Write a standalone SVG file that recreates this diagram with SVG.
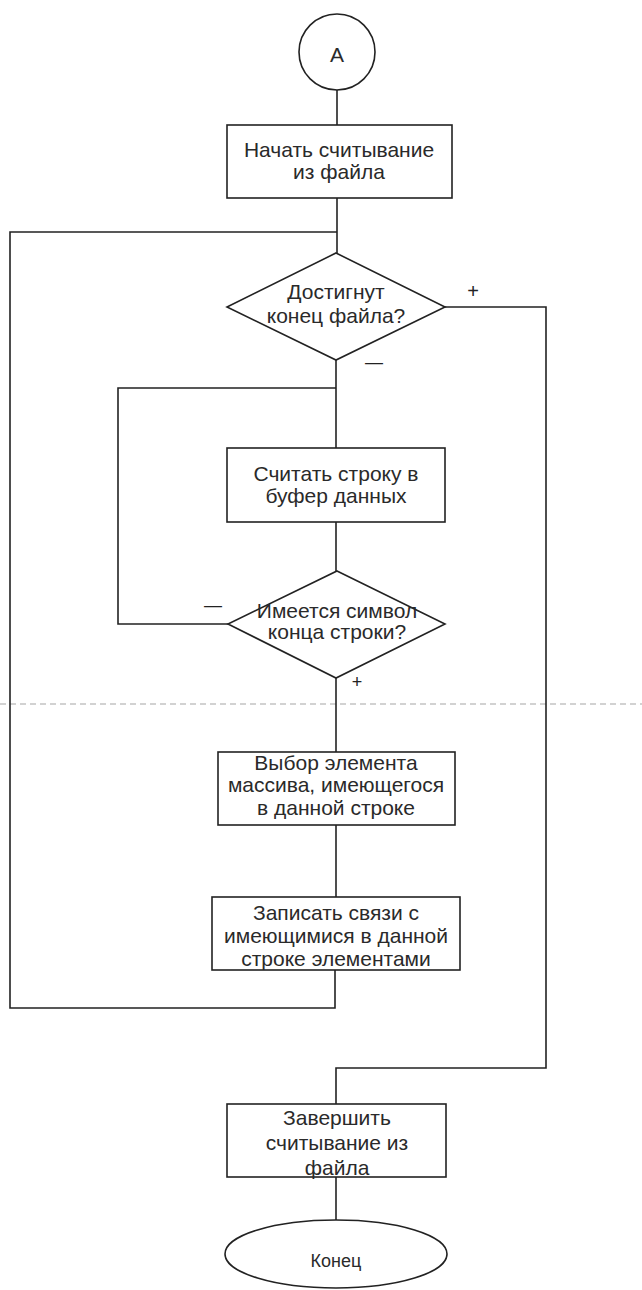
<svg xmlns="http://www.w3.org/2000/svg" width="642" height="1290" viewBox="0 0 642 1290">
<style>
.s{fill:#fff;stroke:#222;stroke-width:1.6}
.c{fill:none;stroke:#222;stroke-width:1.6}
.t{font-family:"Liberation Sans",Arial,sans-serif;font-size:21px;fill:#2a2a2a;text-anchor:middle}
.l{font-family:"Liberation Sans",Arial,sans-serif;fill:#222;text-anchor:middle}
</style>
<rect x="0" y="0" width="642" height="1290" fill="#fff"/>
<line x1="0" y1="704" x2="642" y2="704" stroke="#c4c4c4" stroke-width="1.3" stroke-dasharray="6 4"/>
<g id="connectors">
<path class="c" d="M337 90V125"/>
<path class="c" d="M337 198V253"/>
<path class="c" d="M335 970V1008H10V232H337"/>
<path class="c" d="M445 307H546V1068H336V1104"/>
<path class="c" d="M336 360V448"/>
<path class="c" d="M228 624H118V388H336"/>
<path class="c" d="M336 522V571"/>
<path class="c" d="M336 678V752"/>
<path class="c" d="M336 825V897"/>
<path class="c" d="M336 1177V1220"/>
<text class="l" x="473" y="298" font-size="20">+</text>
<text class="l" x="374" y="368" font-size="18">—</text>
<text class="l" x="213" y="611" font-size="18">—</text>
<text class="l" x="357" y="688" font-size="18">+</text>
</g>
<g id="start">
<circle class="s" cx="337" cy="52" r="38"/>
<text class="t" x="337" y="62">А</text>
</g>
<g id="begin-read">
<rect class="s" x="227" y="125" width="225" height="73"/>
<text class="t" x="339" y="157">Начать считывание</text>
<text class="t" x="339" y="179">из файла</text>
</g>
<g id="eof-check">
<polygon class="s" points="336,253 445,307 336,360 227,307"/>
<text class="t" x="336" y="299">Достигнут</text>
<text class="t" x="336" y="323">конец файла?</text>
</g>
<g id="read-line">
<rect class="s" x="227" y="448" width="218" height="74"/>
<text class="t" x="336" y="481">Считать строку в</text>
<text class="t" x="336" y="503">буфер данных</text>
</g>
<g id="eol-check">
<polygon class="s" points="337,571 445,624 336,678 228,624"/>
<text class="t" x="337" y="618">Имеется символ</text>
<text class="t" x="337" y="639">конца строки?</text>
</g>
<g id="select-element">
<rect class="s" x="218" y="752" width="237" height="73"/>
<text class="t" x="336" y="770">Выбор элемента</text>
<text class="t" x="336" y="792">массива, имеющегося</text>
<text class="t" x="336" y="815">в данной строке</text>
</g>
<g id="write-links">
<rect class="s" x="212" y="897" width="248" height="73"/>
<text class="t" x="336" y="920">Записать связи с</text>
<text class="t" x="336" y="943">имеющимися в данной</text>
<text class="t" x="336" y="966">строке элементами</text>
</g>
<g id="finish-read">
<rect class="s" x="227" y="1104" width="219" height="73"/>
<text class="t" x="337" y="1125">Завершить</text>
<text class="t" x="337" y="1150">считывание из</text>
<text class="t" x="337" y="1175">файла</text>
</g>
<g id="end">
<ellipse class="s" cx="336" cy="1254" rx="111" ry="34"/>
<text class="t" x="336" y="1267" font-size="18" style="font-size:18px">Конец</text>
</g>
</svg>
